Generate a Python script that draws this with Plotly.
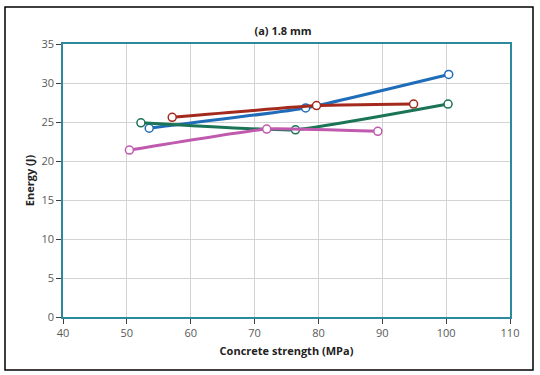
import plotly.graph_objects as go

# Data
blue_x = [53.5, 78.0, 100.4]
blue_y = [24.2, 26.8, 31.1]
red_x = [57.1, 79.7, 94.9]
red_y = [25.6, 27.1, 27.3]
green_x = [52.2, 76.4, 100.3]
green_y = [24.9, 24.0, 27.3]
pink_x = [50.4, 71.9, 89.3]
pink_y = [21.4, 24.1, 23.8]

series = [
    (blue_x, blue_y, "#1F6CB8"),
    (red_x, red_y, "#A32A1C"),
    (green_x, green_y, "#1B7456"),
    (pink_x, pink_y, "#C05AAE"),
]

fig = go.Figure()
for xs, ys, col in series:
    fig.add_trace(go.Scatter(
        x=xs, y=ys, mode="lines+markers",
        line=dict(color=col, width=3, shape="spline", smoothing=0.35),
        marker=dict(symbol="circle", size=8, color="white",
                    line=dict(color=col, width=1.5)),
        showlegend=False,
    ))

font = "Open Sans, Noto Sans, sans-serif"
axis_color = "#2B8A9C"

fig.update_layout(
    width=540, height=375,
    margin=dict(l=63, r=30, t=44, b=58),
    paper_bgcolor="white", plot_bgcolor="white",
    font=dict(family=font, size=11, color="#595959"),
    title=dict(text="<b>(a) 1.8 mm</b>", x=(283 - 63) / 447, xref="paper",
               xanchor="center", y=1 - 31 / 375, yanchor="middle",
               font=dict(size=11, color="#222222", family=font)),
    xaxis=dict(range=[40, 110], dtick=10, tick0=40,
               showgrid=True, gridcolor="#D3D3D3", gridwidth=1,
               showline=True, linecolor=axis_color, linewidth=1.5, mirror=True,
               ticks="outside", ticklen=5, tickcolor="#404040",
               zeroline=False,
               title=dict(text="<b>Concrete strength (MPa)</b>", standoff=8,
                          font=dict(size=11, color="#222222", family=font))),
    yaxis=dict(range=[0, 35], dtick=5,
               showgrid=True, gridcolor="#D3D3D3", gridwidth=1,
               showline=True, linecolor=axis_color, linewidth=1.5, mirror=True,
               ticks="outside", ticklen=5, tickcolor="#404040",
               zeroline=False,
               title=dict(text="<b>Energy (J)</b>", standoff=5,
                          font=dict(size=11, color="#222222", family=font))),
)

# outer frame
fig.add_shape(type="rect", xref="paper", yref="paper",
              x0=(5 - 63) / 447, x1=(533 - 63) / 447,
              y0=(317 - 370) / 273, y1=(317 - 7) / 273,
              line=dict(color="black", width=1.5), layer="below")

fig.write_html("out.html", config={"displayModeBar": False},
               post_script="document.body.style.margin='0';document.body.style.overflow='hidden';")
